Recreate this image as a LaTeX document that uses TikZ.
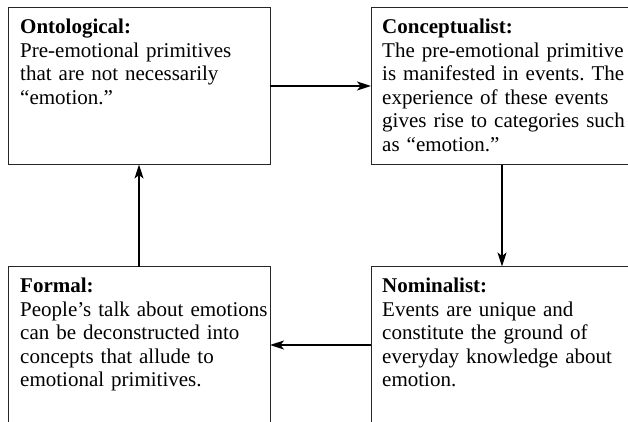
\documentclass[tikz,border=0pt]{standalone}
\usepackage{fontspec}
\setmainfont{Liberation Serif}
\usetikzlibrary{arrows.meta}
\frenchspacing
\begin{document}
\begin{tikzpicture}[x=1pt,y=-1pt,
  box/.style={draw=black!85, line width=0.9pt, minimum width=262pt, minimum height=157pt, inner sep=0pt, outer sep=0pt},
  txt/.style={anchor=base west, inner sep=0pt, text width=255pt, align=left, font=\fontsize{21}{23.6}\selectfont\frenchspacing},
  arr/.style={line width=1.6pt, -{Stealth[length=14pt,width=9pt,inset=3.5pt]}}]
\clip (0,0) rectangle (628,421);
\useasboundingbox (0,0) rectangle (628,421);
\node[box] (tl) at (139,86) {};
\node[box] (tr) at (502,86) {};
\node[box] (bl) at (139,345) {};
\node[box] (br) at (502,345) {};
\node[txt] (tlt) at ([shift={(12,26)}]tl.north west) {\textbf{Ontological:}\\Pre-emotional primitives\\that are not necessarily\\“emotion.”};
\node[txt] (trt) at ([shift={(11,26)}]tr.north west) {\textbf{Conceptualist:}\\The pre-emotional primitive\\is manifested in events. The\\experience of these events\\gives rise to categories such\\as “emotion.”};
\node[txt] (blt) at ([shift={(12,26)}]bl.north west) {\textbf{Formal:}\\People’s talk about emotions\\can be deconstructed into\\concepts that allude to\\emotional primitives.};
\node[txt] (brt) at ([shift={(11,26)}]br.north west) {\textbf{Nominalist:}\\Events are unique and\\constitute the ground of\\everyday knowledge about\\emotion.};
\draw[arr] (tl) -- (tr);
\draw[arr] (tr) -- (br);
\draw[arr] (br) -- (bl);
\draw[arr] (bl) -- (tl);
\end{tikzpicture}
\end{document}
